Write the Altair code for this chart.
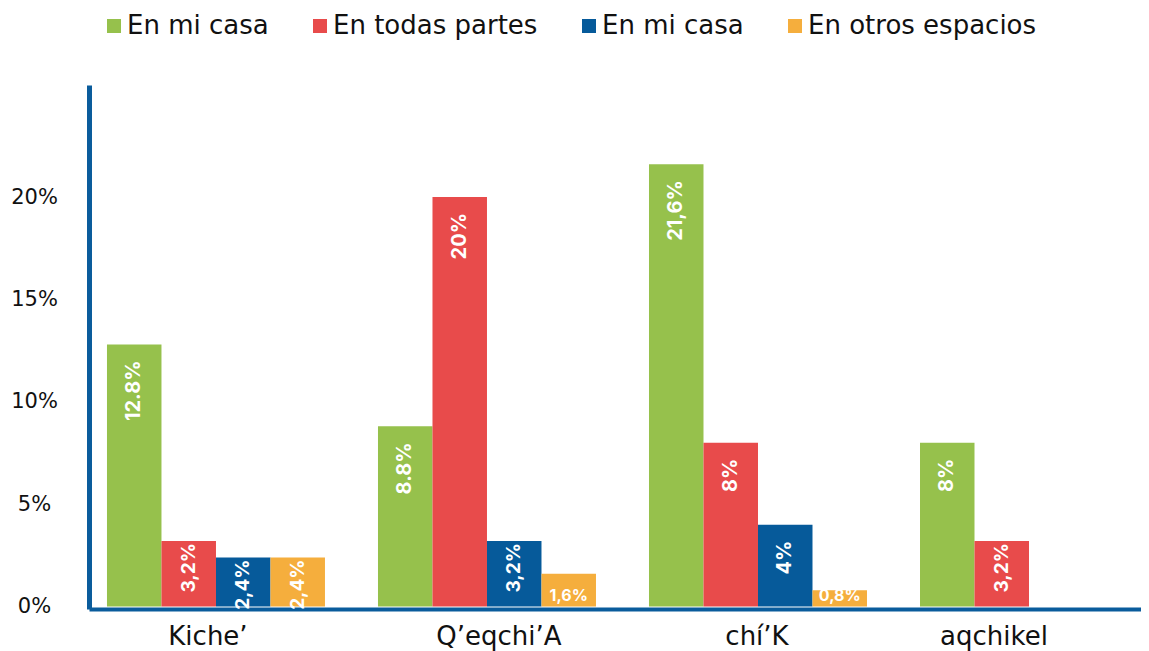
import altair as alt
import pandas as pd

FONT = "DejaVu Sans"
BAR_FONT = "Inter"

groups = ["Kiche’", "Q’eqchi’A", "chí’K", "aqchikel"]
series_keys = ["s1", "s2", "s3", "s4"]
series_names = ["En mi casa", "En todas partes", "En mi casa", "En otros espacios"]
colors = ["#96C14C", "#E84B4B", "#065A9A", "#F5AE3D"]

kiche_vals = [12.8, 3.2, 2.4, 2.4]
kiche_labels = ["12.8%", "3,2%", "2,4%", "2,4%"]
qeqchi_vals = [8.8, 20, 3.2, 1.6]
qeqchi_labels = ["8.8%", "20%", "3,2%", "1,6%"]
chik_vals = [21.6, 8, 4, 0.8]
chik_labels = ["21,6%", "8%", "4%", "0,8%"]
aqchikel_vals = [8, 3.2]
aqchikel_labels = ["8%", "3,2%"]

y_ticks = [0, 5, 10, 15, 20]

rows = []
for g, vals, labs in zip(groups,
                         [kiche_vals, qeqchi_vals, chik_vals, aqchikel_vals],
                         [kiche_labels, qeqchi_labels, chik_labels, aqchikel_labels]):
    for k, v, l in zip(series_keys, vals, labs):
        rows.append({"group": g, "series": k, "value": v, "label": l})
df = pd.DataFrame(rows)
label_df = pd.DataFrame({"group": groups})

name_list = "[" + ",".join("'" + n + "'" for n in series_names) + "]"
key_list = "[" + ",".join("'" + k + "'" for k in series_keys) + "]"
legend_expr = f"{name_list}[indexof({key_list}, datum.value)]"

AXIS_BLUE = "#0A5C9C"
TEXT = "#111111"

x_axis = alt.Axis(title=None, labels=False, ticks=False, tickSize=0,
                  domainColor=AXIS_BLUE, domainWidth=4)
x_scale = alt.Scale(domain=groups, paddingInner=0.1956, paddingOuter=0.0387, align=0.857)
x_enc = alt.X("group:N", sort=groups, scale=x_scale, axis=x_axis)

base = alt.Chart(df).encode(
    x=x_enc,
    xOffset=alt.XOffset("series:N", sort=series_keys,
                        scale=alt.Scale(domain=series_keys, paddingInner=0, paddingOuter=0)),
    y=alt.Y("value:Q", scale=alt.Scale(domain=[-0.12, 25.47], nice=False, zero=False),
            axis=alt.Axis(values=y_ticks, labelExpr="datum.value + '%'", title=None,
                          grid=False, ticks=False, tickSize=0,
                          domainColor=AXIS_BLUE, domainWidth=5,
                          labelFont=FONT, labelFontSize=21, labelFontWeight="normal",
                          labelColor=TEXT, labelAlign="center", labelPadding=55,
                          labelBaseline="middle")),
)

bars = base.mark_bar(strokeWidth=0).encode(
    y2=alt.datum(0),
    color=alt.Color("series:N", sort=series_keys,
                    scale=alt.Scale(domain=series_keys, range=colors),
                    legend=alt.Legend(title=None, orient="none", legendX=12, legendY=-72,
                                      direction="horizontal", symbolType="square",
                                      symbolSize=196, symbolStrokeWidth=0, symbolOpacity=1,
                                      labelFont=FONT, labelFontSize=26, labelFontWeight="normal",
                                      labelColor=TEXT, labelOffset=0, columnPadding=38,
                                      labelLimit=400, labelExpr=legend_expr))
)

tall = base.transform_filter("datum.value >= 3.5").mark_text(
    angle=270, align="right", baseline="middle", dx=-16, color="white",
    font=BAR_FONT, fontSize=20, fontWeight="bold").encode(text="label:N")

short = base.transform_filter("datum.value >= 2 && datum.value < 3.5").mark_text(
    angle=270, align="right", baseline="middle", dx=-2, color="white",
    font=BAR_FONT, fontSize=19, fontWeight="bold").encode(text="label:N")

tiny = base.transform_filter("datum.value < 2").mark_text(
    align="center", baseline="alphabetic", dy=-6, color="white",
    font=BAR_FONT, fontSize=16, fontWeight="bold").encode(y=alt.datum(0), text="label:N")

# category labels under the axis, each with a small horizontal nudge as in the original
x_label_nudges = [-8, 12, -1, -35]
cat_layers = []
for g, nudge in zip(groups, x_label_nudges):
    cat_layers.append(
        alt.Chart(label_df).transform_filter(alt.datum.group == g).mark_text(
            font=FONT, fontSize=26, color=TEXT, baseline="alphabetic", align="center", dx=nudge
        ).encode(x=x_enc, y=alt.value(560), text="group:N")
    )

chart = alt.layer(bars, tall, short, tiny, *cat_layers).properties(
    width=1052, height=524,
    background="white",
    autosize=alt.AutoSizeParams(type="none"),
    padding={"left": 81, "top": 77, "right": 0, "bottom": 50},
).configure_view(stroke=None)

chart.save("out.html", embed_options={"renderer": "svg", "actions": False})
